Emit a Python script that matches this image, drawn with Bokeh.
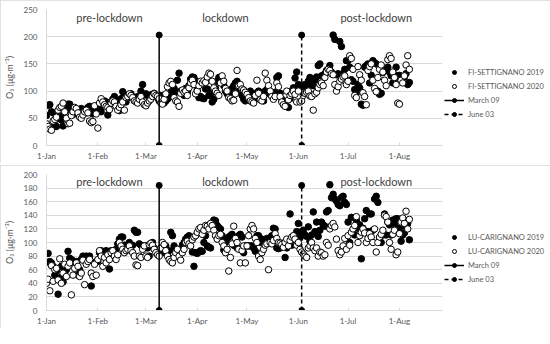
import pandas as pd
from datetime import datetime
from bokeh.plotting import figure
from bokeh.layouts import column
from bokeh.models import Range1d, Legend, LegendItem, Label, MonthsTicker, DatetimeTickFormatter, SingleIntervalTicker
from bokeh.embed import file_html
from bokeh.resources import INLINE

START = "2020-01-01"
X_END = datetime(2020, 8, 27)
MARCH09 = datetime(2020, 3, 9)
JUNE03 = datetime(2020, 6, 3)

fi_2019 = [55, 74, 75, 62, 60, 38, 35, 50, 54, 47, 36, 52, 65, 76, 76, 70, 62, 58, 65, 60, 55, 68, 66, 63, 60, 70, 72, 62, 58, 72, 68,
           70, 66, 62, 78, 82, 80, 56, 75, 80, 85, 90, 82, 78, 64, 86, 99, 92, 80, 88, 90, 95, 88, 85, 82, 90, 84, 100, 112, 93,
           95, 92, 90, 93, 94, 96, 92, 88, 82, 92, 80, 78, 82, 85, 92, 97, 103, 105, 98, 120, 133, 100, 96, 92, 105, 98, 110, 122, 126, 125, 118,
           103, 88, 90, 87, 86, 104, 104, 92, 95, 80, 85, 105, 118, 125, 120, 118, 110, 100, 95, 92, 97, 105, 110, 115, 118, 100, 98, 92, 85, 82,
           93, 87, 100, 95, 84, 92, 97, 100, 90, 85, 82, 100, 103, 96, 94, 92, 88, 98, 125, 128, 96, 85, 80, 78, 72, 70, 86, 100, 106, 124, 135,
           112, 109, 108, 110, 112, 106, 118, 125, 113, 110, 120, 126, 147, 150, 128, 129, 132, 138, 140, 147, 135, 203, 195, 130, 132, 191, 182, 132, 140, 156,
           156, 144, 121, 118, 103, 97, 112, 106, 76, 74, 144, 147, 150, 115, 129, 156, 152, 150, 100, 94, 96, 134, 138, 140, 144, 135, 128, 115, 130, 144, 125,
           129, 121, 124, 126, 132, 112, 116]
fi_2020 = [40, 35, 30, 28, 45, 48, 52, 65, 70, 72, 78, 62, 50, 40, 41, 55, 62, 70, 68, 60, 52, 50, 56, 62, 65, 60, 45, 42, 44, 73, 58,
           32, 78, 86, 80, 75, 72, 70, 66, 78, 82, 80, 72, 65, 70, 75, 80, 65, 88, 90, 95, 92, 88, 82, 80, 78, 85, 90, 80, 75,
           73, 78, 82, 85, 90, 95, 92, 90, 86, 78, 76, 85, 95, 108, 115, 118, 112, 88, 82, 80, 72, 96, 102, 98, 100, 92, 106, 115, 120, 112, 95,
           100, 110, 118, 115, 119, 116, 126, 133, 131, 118, 106, 100, 96, 92, 115, 128, 118, 105, 100, 88, 86, 82, 83, 95, 138, 110, 112, 104, 102, 98,
           94, 88, 82, 80, 78, 92, 120, 96, 84, 82, 90, 133, 120, 110, 100, 90, 85, 90, 115, 108, 90, 80, 75, 72, 100, 84, 92, 95, 100, 94, 80,
           100, 80, 82, 92, 96, 98, 100, 91, 90, 65, 95, 98, 106, 112, 115, 110, 125, 135, 140, 138, 132, 130, 112, 100, 108, 118, 122, 126, 128, 112,
           118, 165, 160, 140, 92, 88, 145, 130, 120, 97, 90, 75, 138, 145, 150, 120, 105, 99, 125, 140, 148, 135, 120, 110, 158, 165, 160, 135, 125, 112, 78,
           76, 120, 115, 128, 148, 165, 140]
lu_2019 = [71, 84, 72, 70, 65, 52, 58, 24, 48, 65, 42, 58, 60, 87, 77, 75, 73, 70, 72, 52, 60, 75, 80, 78, 80, 76, 80, 36, 52, 70, 72,
           72, 85, 88, 80, 85, 88, 86, 61, 88, 87, 86, 90, 98, 105, 108, 108, 96, 96, 95, 100, 95, 96, 118, 115, 115, 98, 96, 95, 92,
           95, 92, 80, 98, 100, 92, 88, 86, 88, 90, 85, 92, 95, 85, 88, 115, 110, 95, 88, 85, 84, 88, 96, 100, 105, 108, 110, 103, 86, 65, 85,
           84, 86, 88, 87, 100, 110, 95, 93, 92, 122, 133, 132, 125, 122, 120, 110, 89, 100, 105, 108, 110, 112, 96, 95, 92, 110, 112, 108, 85, 95,
           95, 95, 95, 95, 92, 87, 110, 110, 100, 105, 100, 104, 106, 105, 107, 110, 121, 120, 92, 91, 92, 99, 98, 78, 92, 100, 142, 96, 98, 104, 116,
           128, 107, 116, 118, 111, 109, 123, 102, 111, 145, 116, 130, 109, 118, 130, 126, 124, 145, 147, 185, 166, 171, 164, 161, 156, 154, 166, 168, 159, 156,
           130, 100, 137, 118, 111, 133, 121, 126, 76, 121, 135, 147, 116, 142, 142, 118, 164, 168, 159, 107, 100, 111, 142, 111, 130, 126, 111, 133, 128, 135, 135,
           121, 102, 111, 114, 123, 128, 104]
lu_2020 = [40, 46, 29, 66, 43, 60, 62, 45, 76, 40, 55, 68, 50, 65, 70, 23, 52, 62, 70, 65, 50, 55, 74, 38, 68, 72, 75, 55, 50, 68, 52,
           75, 88, 80, 65, 78, 70, 82, 75, 85, 88, 80, 75, 82, 100, 95, 90, 85, 88, 90, 95, 88, 85, 80, 67, 66, 80, 78, 90, 95,
           80, 78, 97, 99, 96, 90, 85, 82, 80, 92, 100, 97, 88, 80, 75, 72, 70, 78, 85, 90, 80, 74, 85, 90, 100, 102, 98, 95, 104, 108, 110,
           115, 120, 122, 112, 118, 125, 124, 120, 128, 125, 118, 110, 105, 110, 112, 100, 95, 85, 90, 58, 78, 98, 124, 106, 100, 90, 70, 88, 95, 70,
           95, 110, 120, 125, 120, 106, 100, 80, 75, 85, 90, 96, 98, 60, 100, 98, 103, 113, 106, 100, 99, 97, 93, 100, 105, 95, 103, 108, 110, 105, 96,
           100, 90, 86, 83, 80, 78, 92, 95, 100, 92, 88, 92, 80, 86, 85, 80, 82, 100, 96, 120, 125, 128, 123, 105, 88, 82, 86, 95, 106, 90,
           110, 96, 115, 120, 125, 138, 100, 110, 115, 120, 114, 100, 106, 113, 108, 100, 120, 86, 100, 108, 112, 118, 140, 138, 130, 100, 90, 112, 118, 82, 86,
           113, 130, 136, 128, 146, 120, 134]

periods = ["pre-lockdown", "lockdown", "post-lockdown"]
period_centers = [datetime(2020, 2, 8), datetime(2020, 4, 18), datetime(2020, 7, 18)]

FONT = "Lato"
GRAY = "#595959"


def panel(site, v19, v20, ymax, ystep, vline_top, label_y):
    p = figure(frame_width=396, frame_height=136, output_backend="svg", toolbar_location=None,
               x_axis_type="datetime", x_range=Range1d(datetime(2020, 1, 1), X_END),
               y_range=Range1d(0, ymax), min_border_left=6, min_border_top=9,
               min_border_bottom=3, min_border_right=2)
    p.outline_line_color = None
    p.background_fill_color = "white"
    p.border_fill_color = "white"
    p.styles = {"outline": "1px solid #d9d9d9", "outline-offset": "-1px"}
    p.xgrid.grid_line_color = None
    p.ygrid.grid_line_color = "#d9d9d9"
    p.yaxis.ticker = SingleIntervalTicker(interval=ystep)
    p.xaxis.ticker = MonthsTicker(months=list(range(12)))
    p.xaxis.formatter = DatetimeTickFormatter(months="%-d-%b", days="%-d-%b")
    for ax in (p.xaxis, p.yaxis):
        ax.major_label_text_font = FONT
        ax.major_label_text_font_size = "8px"
        ax.major_label_text_color = GRAY
        ax.axis_line_color = "#d9d9d9"
        ax.major_tick_line_color = "#d9d9d9"
        ax.minor_tick_line_color = None
        ax.major_tick_out = 0
        ax.major_tick_in = 3
    p.yaxis.major_tick_in = 0
    p.yaxis.axis_label = "O₃ (μg·m⁻³)"
    p.yaxis.axis_label_text_font = FONT
    p.yaxis.axis_label_text_font_size = "9px"
    p.yaxis.axis_label_text_font_style = "normal"
    p.yaxis.axis_label_text_color = GRAY
    p.yaxis.axis_label_standoff = 6

    x19 = pd.date_range(START, periods=len(v19))
    x20 = pd.date_range(START, periods=len(v20))
    r19 = p.scatter(x19, v19, size=6.5, fill_color="black", line_color="black")
    r20 = p.scatter(x20, v20, size=6.5, fill_color="white", line_color="black", line_width=1)

    l1 = p.line([MARCH09, MARCH09], [0, vline_top], line_color="black", line_width=1.5)
    m1 = p.scatter([MARCH09, MARCH09], [0, vline_top], size=6, color="black")
    l2 = p.line([JUNE03, JUNE03], [0, vline_top], line_color="black", line_width=1.5, line_dash="4 3")
    m2 = p.scatter([JUNE03, JUNE03], [0, vline_top], size=6, color="black")

    for name, xc in zip(periods, period_centers):
        p.add_layout(Label(x=xc, y=label_y, text=name, text_align="center", text_baseline="middle",
                           text_font=FONT, text_font_size="11px", text_color="#404040"))

    legend = Legend(items=[LegendItem(label=f"{site} 2019", renderers=[r19]),
                           LegendItem(label=f"{site} 2020", renderers=[r20]),
                           LegendItem(label="March 09", renderers=[l1, m1]),
                           LegendItem(label="June 03", renderers=[l2, m2])],
                    location=(0, 24), label_text_font=FONT, label_text_font_size="7.5px",
                    label_text_color=GRAY, border_line_alpha=0, background_fill_alpha=0,
                    glyph_width=20, glyph_height=10, spacing=4, label_standoff=4, padding=2,
                    margin=4)
    p.add_layout(legend, "right")
    return p


top = panel("FI-SETTIGNANO", fi_2019, fi_2020, 250, 50, 203, 235)
bottom = panel("LU-CARIGNANO", lu_2019, lu_2020, 200, 20, 184, 189)
layout = column(top, bottom, spacing=2)

open("out.html", "w").write(file_html(layout, INLINE))
